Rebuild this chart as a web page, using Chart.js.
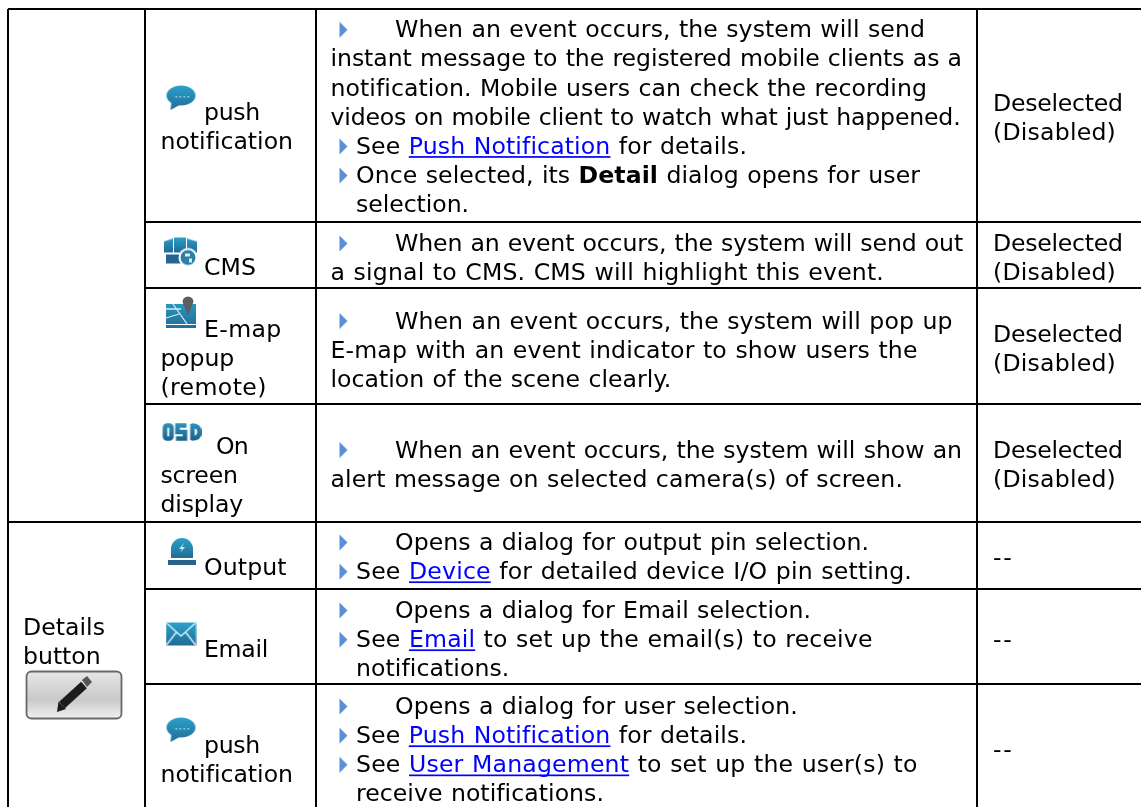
<!DOCTYPE html>
<html>
<head>
<meta charset="utf-8">
<title>Event actions table</title>
<script src="https://cdn.jsdelivr.net/npm/chart.js@4"></script>
<style>
  html, body { margin: 0; padding: 0; background: #fff; }
  canvas { display: block; }
</style>
</head>
<body>
<canvas id="tableChart" width="1141" height="807"></canvas>
<script>
// table structure, in axis units
const colEdges = [8, 145, 316, 977];
const rowEdges = [9, 222, 288, 404, 522, 589, 684];
const fullRows = [9, 522]; // these two run across the first column as well

const firstCol = ['Details', 'button'];
const firstColBase = 635;
const firstColEnds = [105, 100.7];

const actionLines = [
  ['push', 'notification'],
  ['CMS'],
  ['E-map', 'popup', '(remote)'],
  ['On', 'screen', 'display'],
  ['Output'],
  ['Email'],
  ['push', 'notification']
];
const actionBases = [120, 275, 337, 454, 575, 656.7, 753];
const actionEnds = [
  [260, 293],
  [256],
  [281.7, 234, 266.7],
  [248, 237.7, 243],
  [286.7],
  [268],
  [260, 293]
];
const actionIcons = ['push', 'cms', 'emap', 'osd', 'output', 'email', 'push'];
const iconX = [181, 180.5, 181.5, 181.5, 182, 181, 181];
const iconY = [98, 252, 313, 432, 552, 634, 730];

// "> " starts a bullet line, ">> " a bullet with the wide gap, "  " the hanging indent
const descLines = [
  ['>> When an event occurs, the system will send',
   'instant message to the registered mobile clients as a',
   'notification. Mobile users can check the recording',
   'videos on mobile client to watch what just happened.',
   '> See [Push Notification] for details.',
   '> Once selected, its *Detail* dialog opens for user',
   '  selection.'],
  ['>> When an event occurs, the system will send out',
   'a signal to CMS. CMS will highlight this event.'],
  ['>> When an event occurs, the system will pop up',
   'E-map with an event indicator to show users the',
   'location of the scene clearly.'],
  ['>> When an event occurs, the system will show an',
   'alert message on selected camera(s) of screen.'],
  ['>> Opens a dialog for output pin selection.',
   '> See [Device] for detailed device I/O pin setting.'],
  ['>> Opens a dialog for Email selection.',
   '> See [Email] to set up the email(s) to receive',
   '  notifications.'],
  ['>> Opens a dialog for user selection.',
   '> See [Push Notification] for details.',
   '> See [User Management] to set up the user(s) to',
   '  receive notifications.']
];
const descBases = [37.3, 251, 328.5, 457.5, 550, 618, 714];
// where each line ends in the reference, the font here runs a bit different from the original
const descEnds = [
  [925, 962, 927, 960.5, 747, 920, 469],
  [963, 884],
  [952.6, 917.6, 671.4],
  [962, 903],
  [869, 912],
  [811, 872.6, 509.4],
  [797.7, 747, 917.6, 604]
];

const defaultLines = [
  ['Deselected', '(Disabled)'],
  ['Deselected', '(Disabled)'],
  ['Deselected', '(Disabled)'],
  ['Deselected', '(Disabled)'],
  ['--'],
  ['--'],
  ['--']
];
const defaultBases = [110.7, 251, 341.7, 457.7, 565, 646.5, 757];
const defaultEnds = [
  [1122.7, 1116],
  [1122.7, 1116],
  [1122.7, 1116],
  [1122.7, 1116],
  [1013.5],
  [1013.5],
  [1013.5]
];

const lineStep = 29.15;
const textFont = '"DejaVu Sans", Verdana, sans-serif';
const textSize = 23.6;

function makeIcon(w, h, draw) {
  const c = document.createElement('canvas');
  c.width = w;
  c.height = h;
  const g = c.getContext('2d');
  draw(g, w, h);
  return c;
}

function blueFill(g, h) {
  const grad = g.createLinearGradient(0, 0, 0, h);
  grad.addColorStop(0, '#2da3cc');
  grad.addColorStop(1, '#1f6a94');
  return grad;
}

const icons = {
  arrow: makeIcon(9, 17, function (g) {
    g.fillStyle = '#5a8fd8';
    g.beginPath();
    g.moveTo(0.5, 0.5);
    g.lineTo(8.5, 8.5);
    g.lineTo(0.5, 16.5);
    g.closePath();
    g.fill();
  }),
  push: makeIcon(31, 26, function (g, w, h) {
    g.fillStyle = blueFill(g, h);
    g.filter = 'blur(0.4px)';
    g.beginPath();
    g.ellipse(15.5, 10.5, 14.5, 10, 0, 0, Math.PI * 2);
    g.fill();
    g.beginPath();
    g.moveTo(6, 16);
    g.lineTo(5, 25);
    g.lineTo(14, 20);
    g.closePath();
    g.fill();
    g.fillStyle = '#9ad4e6';
    [10, 14, 18, 22].forEach(function (x) { g.fillRect(x, 11, 1.6, 1.6); });
  }),
  cms: makeIcon(35, 31, function (g, w, h) {
    g.filter = 'blur(0.5px)';
    g.fillStyle = blueFill(g, 16);
    g.beginPath();
    g.moveTo(1, 5); g.lineTo(10, 2); g.lineTo(10, 16); g.lineTo(1, 16);
    g.closePath();
    g.fill();
    g.fillRect(11, 1, 12, 15);
    g.beginPath();
    g.moveTo(24, 2); g.lineTo(34, 5); g.lineTo(34, 16); g.lineTo(24, 16);
    g.closePath();
    g.fill();
    g.fillStyle = '#24668e';
    g.fillRect(3, 18, 17, 9);
    g.fillStyle = '#ffffff';
    g.beginPath();
    g.arc(25, 21, 9.5, 0, Math.PI * 2);
    g.fill();
    g.fillStyle = '#2c7ea8';
    g.beginPath();
    g.arc(25, 21, 7.5, 0, Math.PI * 2);
    g.fill();
    g.fillStyle = '#d8eef5';
    g.fillRect(22, 17, 5, 3);
    g.fillRect(26, 22, 3, 4);
  }),
  emap: makeIcon(33, 34, function (g, w, h) {
    g.filter = 'blur(0.4px)';
    g.fillStyle = blueFill(g, h);
    g.fillRect(1, 8, 30, 20);
    g.fillRect(1, 29, 30, 3);
    g.strokeStyle = '#d6edf4';
    g.lineWidth = 1.3;
    g.beginPath();
    g.moveTo(1, 13); g.lineTo(16, 13);
    g.moveTo(8, 8); g.lineTo(22, 28);
    g.moveTo(1, 22); g.lineTo(14, 18);
    g.stroke();
    g.fillStyle = '#5c5f62';
    g.beginPath();
    g.arc(23, 6, 5.5, Math.PI, 0);
    g.lineTo(23, 19);
    g.closePath();
    g.fill();
  }),
  osd: makeIcon(40, 20, function (g) {
    g.filter = 'blur(0.6px)';
    const grad = g.createLinearGradient(0, 1, 0, 19);
    grad.addColorStop(0, '#2b95bf');
    grad.addColorStop(1, '#1c5f88');
    g.strokeStyle = grad;
    g.lineWidth = 4.6;
    g.beginPath();
    g.roundRect(3.5, 3.5, 6.5, 13, 2);
    g.stroke();
    g.beginPath();
    g.moveTo(25, 3.5); g.lineTo(16, 3.5); g.lineTo(16, 10);
    g.lineTo(23.5, 10); g.lineTo(23.5, 16.5); g.lineTo(14.5, 16.5);
    g.stroke();
    g.beginPath();
    g.moveTo(31, 2); g.lineTo(31, 18);
    g.moveTo(30, 3.5); g.quadraticCurveTo(38, 3.5, 38, 10);
    g.quadraticCurveTo(38, 16.5, 30, 16.5);
    g.stroke();
  }),
  output: makeIcon(30, 30, function (g, w, h) {
    g.filter = 'blur(0.4px)';
    g.fillStyle = blueFill(g, 22);
    g.beginPath();
    g.moveTo(4, 21);
    g.lineTo(4, 12);
    g.arc(15, 12, 11, Math.PI, 0);
    g.lineTo(26, 21);
    g.closePath();
    g.fill();
    g.fillStyle = '#2a6389';
    g.fillRect(1, 23, 28, 5);
    g.fillStyle = '#cde7f0';
    g.beginPath();
    g.moveTo(17, 6); g.lineTo(12, 12); g.lineTo(15, 12);
    g.lineTo(13, 16); g.lineTo(18, 10); g.lineTo(15, 10);
    g.closePath();
    g.fill();
  }),
  email: makeIcon(31, 24, function (g, w, h) {
    g.filter = 'blur(0.3px)';
    g.fillStyle = blueFill(g, h);
    g.fillRect(0.5, 0.5, 30, 23);
    g.strokeStyle = '#d6edf4';
    g.lineWidth = 1.4;
    g.beginPath();
    g.moveTo(1, 1); g.lineTo(15.5, 14); g.lineTo(30, 1);
    g.moveTo(1, 23); g.lineTo(11, 10);
    g.moveTo(30, 23); g.lineTo(20, 10);
    g.stroke();
  }),
  button: makeIcon(98, 50, function (g) {
    g.filter = 'blur(0.4px)';
    const grad = g.createLinearGradient(0, 2, 0, 48);
    grad.addColorStop(0, '#e6e6e6');
    grad.addColorStop(0.6, '#c9c9c9');
    grad.addColorStop(1, '#efefef');
    g.beginPath();
    g.roundRect(1.5, 1.5, 95, 47, 5);
    g.fillStyle = grad;
    g.fill();
    g.strokeStyle = '#686868';
    g.lineWidth = 1.8;
    g.stroke();
    g.strokeStyle = '#1c1c1c';
    g.lineWidth = 8.5;
    g.beginPath();
    g.moveTo(37, 35); g.lineTo(59, 15);
    g.stroke();
    g.fillStyle = '#1c1c1c';
    g.beginPath();
    g.moveTo(32, 42); g.lineTo(33.5, 31.5); g.lineTo(41, 39);
    g.closePath();
    g.fill();
    g.fillStyle = '#555';
    g.beginPath();
    g.moveTo(57, 10); g.lineTo(62, 6); g.lineTo(67, 12); g.lineTo(62, 17);
    g.closePath();
    g.fill();
  })
};

// one border per dataset, both ends read from the edge arrays
const bottom = 807;
const right = 1141;
const borders = [];
colEdges.forEach(function (x) {
  borders.push([{ x: x, y: rowEdges[0] }, { x: x, y: bottom }]);
});
rowEdges.forEach(function (y) {
  const from = fullRows.includes(y) ? colEdges[0] : colEdges[1];
  borders.push([{ x: from, y: y }, { x: right, y: y }]);
});

const bulletPoints = [];
descLines.forEach(function (lines, r) {
  lines.forEach(function (line, i) {
    if (line[0] === '>') {
      bulletPoints.push({ x: 343.5, y: descBases[r] + i * lineStep - 7.5 });
    }
  });
});

const iconPoints = actionIcons.map(function (name, i) {
  return { x: iconX[i], y: iconY[i] };
});
iconPoints.push({ x: 74, y: 695 });
const iconStyles = actionIcons.map(function (name) { return icons[name]; });
iconStyles.push(icons.button);

function splitSpans(text) {
  return text.split(/(\[[^\]]+\]|\*[^*]+\*)/).filter(Boolean).map(function (part) {
    if (part[0] === '[') return { word: part.slice(1, -1), link: true };
    if (part[0] === '*') return { word: part.slice(1, -1), bold: true };
    return { word: part };
  });
}

function spanFont(span) {
  return (span.bold ? 'bold ' : '') + textSize + 'px ' + textFont;
}

// draws a line, splitting out [links] and *bold*, fitted to end at endX
function drawLine(ctx, text, x, y, endX) {
  const spans = splitSpans(text);
  ctx.wordSpacing = '0.8px';
  ctx.letterSpacing = '0px';
  let natural = 0;
  let count = 0;
  spans.forEach(function (span) {
    ctx.font = spanFont(span);
    natural += ctx.measureText(span.word).width;
    count += span.word.length;
  });
  ctx.letterSpacing = ((endX - x - natural) / count).toFixed(3) + 'px';
  let px = x;
  spans.forEach(function (span) {
    ctx.font = spanFont(span);
    ctx.fillStyle = span.link ? '#0000ff' : '#000000';
    ctx.fillText(span.word, px, y);
    const w = ctx.measureText(span.word).width;
    if (span.link) {
      ctx.fillRect(px, y + 2.2, w, 1.7);
    }
    px += w;
  });
}

const tableText = {
  id: 'tableText',
  afterDatasetsDraw: function (chart) {
    const ctx = chart.ctx;
    const sx = chart.scales.x;
    const sy = chart.scales.y;
    function put(t, x, y, endX) {
      drawLine(ctx, t, sx.getPixelForValue(x), sy.getPixelForValue(y), sx.getPixelForValue(endX));
    }
    ctx.save();
    ctx.textBaseline = 'alphabetic';
    ctx.textAlign = 'left';

    firstCol.forEach(function (t, i) {
      put(t, 23, firstColBase + i * lineStep, firstColEnds[i]);
    });

    actionLines.forEach(function (lines, r) {
      lines.forEach(function (t, i) {
        let x = i === 0 ? 204 : 160.5;
        if (t === 'On') x = 216;
        put(t, x, actionBases[r] + i * lineStep, actionEnds[r][i]);
      });
    });

    descLines.forEach(function (lines, r) {
      lines.forEach(function (line, i) {
        let x = 330.5;
        let t = line;
        if (line.startsWith('>> ')) { x = 395; t = line.slice(3); }
        else if (line.startsWith('> ')) { x = 356; t = line.slice(2); }
        else if (line.startsWith('  ')) { x = 356; t = line.slice(2); }
        put(t, x, descBases[r] + i * lineStep, descEnds[r][i]);
      });
    });

    defaultLines.forEach(function (lines, r) {
      lines.forEach(function (t, i) {
        put(t, 993, defaultBases[r] + i * lineStep, defaultEnds[r][i]);
      });
    });
    ctx.restore();
  }
};

const datasets = borders.map(function (pts) {
  return {
    data: pts,
    showLine: true,
    borderColor: '#000',
    borderWidth: 2,
    pointRadius: 0
  };
});
datasets.push({
  data: bulletPoints,
  showLine: false,
  pointStyle: icons.arrow,
  pointRadius: 8
});
datasets.push({
  data: iconPoints,
  showLine: false,
  pointStyle: iconStyles,
  pointRadius: 15
});

new Chart(document.getElementById('tableChart').getContext('2d'), {
  type: 'scatter',
  data: { datasets: datasets },
  plugins: [tableText],
  options: {
    responsive: false,
    animation: false,
    layout: { padding: 0, autoPadding: false },
    scales: {
      x: { display: false, min: 0, max: right },
      y: { display: false, min: 0, max: bottom, reverse: true }
    },
    plugins: {
      legend: { display: false },
      tooltip: { enabled: false }
    }
  }
});
</script>
</body>
</html>
